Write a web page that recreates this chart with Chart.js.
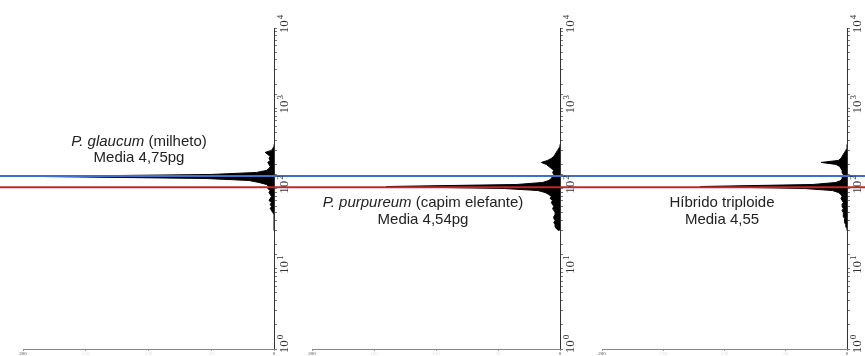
<!DOCTYPE html>
<html>
<head>
<meta charset="utf-8">
<title>Histogramas de conteudo de DNA</title>
<script src="https://cdn.jsdelivr.net/npm/chart.js@4.4.1/dist/chart.umd.min.js"></script>
<style>
  body { margin: 0; background: #fff; overflow: hidden; }
  .panel { position: absolute; top: 0; height: 356px; }
</style>
</head>
<body>
<div class="panel" style="left:0;width:288px"><canvas id="c1"></canvas></div>
<div class="panel" style="left:288px;width:287px"><canvas id="c2"></canvas></div>
<div class="panel" style="left:575px;width:290px"><canvas id="c3"></canvas></div>
<script>
// canais de fluorescencia (escala log)
const channels = [29.85, 31.62, 33.50, 35.48, 37.58, 39.81, 42.17, 44.67, 47.32,
  50.12, 53.09, 56.23, 59.57, 63.10, 66.83, 70.79, 74.99, 79.43, 84.14,
  89.13, 94.41, 100.0, 105.9, 112.2, 118.9, 125.9, 133.4, 141.3, 149.6,
  158.5, 167.9, 177.8, 188.4, 199.5, 211.3, 223.9, 237.1, 251.2, 266.1,
  281.8, 298.5, 316.2, 335.0, 354.8];

// numero de nucleos por canal
const countsGlaucum = [0, 0, 0, 0, 0, 0, 0, 0, 0,
  1, 2, 3, 2, 3, 2, 4, 3, 2, 3,
  4, 3, 5, 4, 6, 12, 20, 55, 190, 50,
  14, 6, 4, 3, 4, 5, 3, 4, 3, 5,
  7, 2, 1, 0, 0];
const countsPurpureum = [1, 3, 4, 4, 5, 4, 5, 5, 4,
  4, 5, 6, 5, 6, 7, 6, 8, 7, 9,
  12, 18, 45, 140, 35, 14, 9, 7, 6, 5,
  6, 5, 7, 9, 11, 15, 10, 7, 5, 4,
  3, 2, 1, 0, 0];
const countsHibrido = [0, 0, 1, 1, 2, 2, 2, 3, 3,
  3, 4, 3, 4, 4, 3, 4, 5, 4, 5,
  7, 12, 35, 120, 28, 9, 5, 4, 4, 3,
  4, 4, 5, 6, 9, 21, 7, 5, 4, 3,
  2, 1, 0, 0, 0];

const decades = [0, 1, 2, 3, 4];
const countTicks = [0, 50, 100, 150, 200];
// picos de referencia: P. glaucum (azul) e P. purpureum (vermelho)
const refPeaks = [143, 104];

const textGlaucum = [['P. glaucum', ' (milheto)'], ['', 'Media 4,75pg']];
const textPurpureum = [['P. purpureum', ' (capim elefante)'], ['', 'Media 4,54pg']];
const textHibrido = [['', 'Híbrido triploide'], ['', 'Media 4,55']];

const axisLabels = {
  id: 'axisLabels',
  afterDraw(chart) {
    const ctx = chart.ctx, y = chart.scales.y, x0 = chart.chartArea.right + 14;
    ctx.save();
    ctx.fillStyle = '#333';
    ctx.textBaseline = 'alphabetic';
    decades.forEach(n => {
      const py = Math.min(y.getPixelForValue(Math.pow(10, n)) - 4, 344);
      ctx.save();
      ctx.translate(x0, py);
      ctx.rotate(-Math.PI / 2);
      ctx.font = '13px "Liberation Serif"';
      const w1 = ctx.measureText('10').width;
      ctx.font = '9px "Liberation Serif"';
      const w2 = ctx.measureText(String(n)).width;
      const start = -(w1 + w2 + 1) / 2;
      ctx.font = '13px "Liberation Serif"';
      ctx.fillText('10', start, 0);
      ctx.font = '9px "Liberation Serif"';
      ctx.fillText(String(n), start + w1 + 1, -5);
      ctx.restore();
    });
    ctx.restore();
  }
};

const refLines = {
  id: 'refLines',
  afterDraw(chart) {
    const ctx = chart.ctx, y = chart.scales.y;
    ctx.save();
    ctx.lineWidth = 2;
    refPeaks.forEach((v, i) => {
      const py = y.getPixelForValue(v);
      ctx.strokeStyle = i === 0 ? '#3f6fc6' : '#c0282d';
      ctx.beginPath();
      ctx.moveTo(0, py);
      ctx.lineTo(chart.width, py);
      ctx.stroke();
    });
    ctx.restore();
  }
};

function panelText(lines, cx, baselines) {
  return {
    id: 'panelText',
    afterDraw(chart) {
      const ctx = chart.ctx;
      ctx.save();
      ctx.fillStyle = '#222';
      ctx.textBaseline = 'alphabetic';
      lines.forEach((parts, i) => {
        ctx.font = 'italic 15px "Liberation Sans"';
        const wi = ctx.measureText(parts[0]).width;
        ctx.font = '15px "Liberation Sans"';
        const wn = ctx.measureText(parts[1]).width;
        let x = cx - (wi + wn) / 2;
        ctx.font = 'italic 15px "Liberation Sans"';
        ctx.fillText(parts[0], x, baselines[i]);
        ctx.font = '15px "Liberation Sans"';
        ctx.fillText(parts[1], x + wi, baselines[i]);
      });
      ctx.restore();
    }
  };
}

function makePanel(id, counts, text, cx, baselines, padLeft, padRight) {
  const points = channels.map((c, i) => ({x: counts[i], y: c}));
  return new Chart(document.getElementById(id), {
    type: 'line',
    data: {
      datasets: [{
        data: points,
        indexAxis: 'y',
        borderColor: '#000',
        backgroundColor: '#000',
        borderWidth: 1,
        pointRadius: 0,
        tension: 0,
        fill: 'origin'
      }]
    },
    options: {
      indexAxis: 'y',
      responsive: true,
      maintainAspectRatio: false,
      animation: false,
      layout: { padding: { top: 28, bottom: 0, left: padLeft, right: padRight } },
      plugins: { legend: { display: false }, tooltip: { enabled: false } },
      scales: {
        y: {
          type: 'logarithmic',
          position: 'right',
          min: 1,
          max: 10000,
          border: { display: true, color: '#333', width: 1 },
          grid: { drawOnChartArea: false, drawTicks: true, tickLength: 3, color: '#777' },
          ticks: { display: false }
        },
        x: {
          type: 'linear',
          reverse: true,
          min: countTicks[0],
          max: countTicks[countTicks.length - 1],
          border: { display: true, color: '#888', width: 1 },
          grid: { drawOnChartArea: false, drawTicks: true, tickLength: 2, color: '#999' },
          ticks: {
            stepSize: countTicks[1] - countTicks[0],
            padding: 0,
            autoSkip: false,
            maxRotation: 0,
            font: { size: 5, family: '"Liberation Serif"', lineHeight: 1 },
            color: ctx => (ctx.index === 0 || ctx.index === countTicks.length - 1) ? '#444' : '#ddd'
          }
        }
      }
    },
    plugins: [refLines, axisLabels, panelText(text, cx, baselines)]
  });
}

makePanel('c1', countsGlaucum, textGlaucum, 139, [146, 162], 23, 11);
makePanel('c2', countsPurpureum, textPurpureum, 135, [207, 224], 24, 12);
makePanel('c3', countsHibrido, textHibrido, 147, [207, 224], 27, 15);
</script>
</body>
</html>
